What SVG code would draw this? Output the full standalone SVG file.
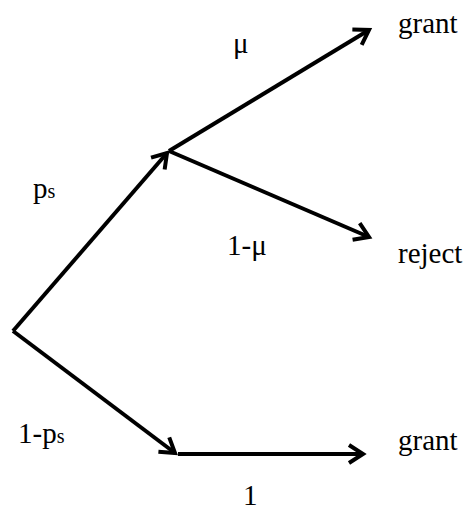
<svg xmlns="http://www.w3.org/2000/svg" width="467" height="510" viewBox="0 0 467 510">
<style>
.edge{fill:none;stroke:#000;stroke-width:4;stroke-linecap:butt;marker-end:url(#ah)}
.plain{fill:none;stroke:#000;stroke-width:4}
text{font-family:"Liberation Serif","Times New Roman",serif;font-size:29px;fill:#000}
.sub{font-size:20px}
</style>
<defs>
<marker id="ah" markerUnits="userSpaceOnUse" viewBox="-20 -12 24 24" refX="0" refY="0" markerWidth="24" markerHeight="24" orient="auto">
<path d="M-14,-9 L0,0 L-14,9" fill="none" stroke="#000" stroke-width="4" stroke-linejoin="miter"/>
</marker>
</defs>
<rect width="467" height="510" fill="#fff"/>
<g id="connectors">
<path class="edge" d="M13,331 L167,153"/>
<path class="edge" d="M169,151 L369,30"/>
<path class="edge" d="M169,151 L369,237"/>
<path class="edge" d="M13,331 L175,453"/>
<path class="edge" d="M178,454 L363,454"/>
</g>
<g id="label-ps"><text x="33" y="198">p<tspan class="sub">s</tspan></text></g>
<g id="label-mu"><text x="233" y="53">μ</text></g>
<g id="label-1-mu"><text x="227" y="255">1-μ</text></g>
<g id="label-1-ps"><text x="18" y="443">1-p<tspan class="sub">s</tspan></text></g>
<g id="label-1"><text x="243" y="505">1</text></g>
<g id="node-grant-top"><text x="398" y="33">grant</text></g>
<g id="node-reject"><text x="398" y="263">reject</text></g>
<g id="node-grant-bottom"><text x="398" y="450">grant</text></g>
</svg>
